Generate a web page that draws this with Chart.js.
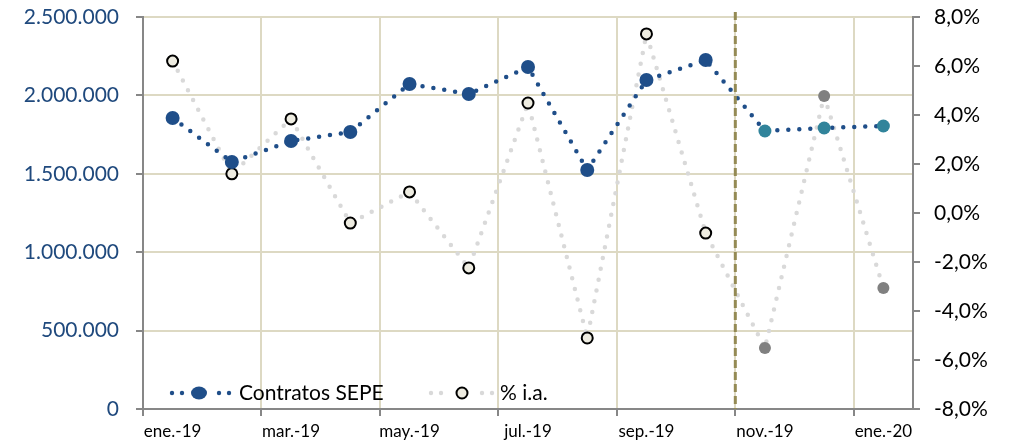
<!DOCTYPE html>
<html lang="es">
<head>
<meta charset="utf-8">
<title>Contratos SEPE</title>
<script src="https://cdn.jsdelivr.net/npm/chart.js@4/dist/chart.umd.min.js"></script>
<style>
  html, body { margin: 0; padding: 0; background: #fff; }
  #wrap { width: 1011px; height: 443px; position: relative; }
</style>
</head>
<body>
<div id="wrap"><canvas id="grafico"></canvas></div>
<script>
/* Contratos registrados en el SEPE y variación interanual (% i.a.)
   ene.-19 a ene.-20; los tres últimos meses en otro color (previsión). */

const meses = ['ene.-19', 'feb.-19', 'mar.-19', 'abr.-19', 'may.-19', 'jun.-19', 'jul.-19',
               'ago.-19', 'sep.-19', 'oct.-19', 'nov.-19', 'dic.-19', 'ene.-20'];

const contratos = [1856000, 1575000, 1709000, 1767000, 2073000, 2009000, 2181000,
                   1524000, 2098000, 2226000, 1773000, 1792000, 1805000];

const variacion = [6.2, 1.6, 3.84, -0.41, 0.86, -2.24, 4.49,
                   -5.1, 7.31, -0.82, -5.51, 4.78, -3.06];

const ticksIzq = [0, 500000, 1000000, 1500000, 2000000, 2500000];
const ticksDer = [-8, -6, -4, -2, 0, 2, 4, 6, 8];

const primerPrevisto = 10;   // nov.-19 en adelante
const FONT = 'Lato, "Open Sans", sans-serif';

const c = {
  azul:   '#1f4e89',
  azulTx: '#1f497d',
  teal:   '#31849b',
  gris:   '#d9d9d9',
  grisPt: '#808080',
  crema:  '#eeece1',
  grid:   '#ddd9c3',
  eje:    '#878787',
  oliva:  '#948a54'
};

function miles(v) {
  return String(Math.round(v)).replace(/\B(?=(\d{3})+(?!\d))/g, '.');
}
function pct(v) {
  return v.toFixed(1).replace('.', ',') + '%';
}
function sinRelleno(s) {
  s.paddingTop = 0; s.paddingBottom = 0; s.paddingLeft = 0; s.paddingRight = 0;
}

/* línea vertical discontinua entre oct.-19 y nov.-19, y leyenda interior */
const extras = {
  id: 'extras',
  afterDatasetsDraw(chart) {
    const { ctx, chartArea, scales } = chart;
    const x = (scales.x.getPixelForValue(primerPrevisto - 1) + scales.x.getPixelForValue(primerPrevisto)) / 2;
    ctx.save();
    ctx.strokeStyle = c.oliva;
    ctx.lineWidth = 3;
    ctx.setLineDash([8, 4]);
    ctx.beginPath();
    ctx.moveTo(x, chartArea.top - 5);
    ctx.lineTo(x, chartArea.bottom);
    ctx.stroke();
    ctx.restore();

    // leyenda
    const y = 393;
    const items = [
      { x0: 172, mk: 199, tx: 239, col: c.azul, label: 'Contratos SEPE', open: false },
      { x0: 431, mk: 462, tx: 500, col: c.gris, label: '% i.a.', open: true }
    ];
    ctx.save();
    items.forEach(function (it) {
      ctx.fillStyle = it.col;
      [it.x0, it.x0 + 10, it.mk + 20, it.mk + 30].forEach(function (px) {
        ctx.beginPath();
        ctx.arc(px, y, 2.2, 0, Math.PI * 2);
        ctx.fill();
      });
      ctx.beginPath();
      if (it.open) {
        ctx.arc(it.mk, y, 5.5, 0, Math.PI * 2);
        ctx.fillStyle = c.crema;
        ctx.fill();
        ctx.lineWidth = 2;
        ctx.strokeStyle = '#000';
        ctx.stroke();
      } else {
        ctx.ellipse(it.mk, y, 8, 6.5, 0, 0, Math.PI * 2);
        ctx.fill();
      }
      ctx.fillStyle = '#000';
      ctx.font = '21px ' + FONT;
      ctx.textBaseline = 'middle';
      ctx.textAlign = 'left';
      ctx.fillText(it.label, it.tx, y);
    });
    ctx.restore();
  }
};

new Chart(document.getElementById('grafico'), {
  type: 'line',
  data: {
    labels: meses,
    datasets: [
      {
        label: 'Contratos SEPE',
        data: contratos,
        yAxisID: 'y',
        borderColor: c.azul,
        borderWidth: 4.5,
        borderCapStyle: 'round',
        borderDash: [0, 11],
        tension: 0,
        pointRadius: contratos.map((v, i) => i >= primerPrevisto ? 6.5 : 7),
        pointBorderWidth: 0,
        pointBackgroundColor: contratos.map((v, i) => i >= primerPrevisto ? c.teal : c.azul),
        pointBorderColor: 'transparent'
      },
      {
        label: '% i.a.',
        data: variacion,
        yAxisID: 'y2',
        borderColor: c.gris,
        borderWidth: 4.5,
        borderCapStyle: 'round',
        borderDash: [0, 11],
        tension: 0,
        pointRadius: variacion.map((v, i) => i >= primerPrevisto ? 6 : 5.5),
        pointBorderWidth: variacion.map((v, i) => i >= primerPrevisto ? 0 : 2),
        pointBackgroundColor: variacion.map((v, i) => i >= primerPrevisto ? c.grisPt : c.crema),
        pointBorderColor: '#000'
      }
    ]
  },
  options: {
    responsive: true,
    maintainAspectRatio: false,
    animation: false,
    layout: { padding: { top: 17, left: 0, right: 0, bottom: 0 } },
    plugins: {
      legend: { display: false },
      tooltip: { enabled: false }
    },
    scales: {
      x: {
        offset: true,
        grid: {
          offset: true,
          color: (ctx) => (ctx.index % 2 === 0 && ctx.index > 0) ? c.grid : 'transparent',
          tickColor: (ctx) => ctx.index % 2 === 0 ? c.eje : 'transparent',
          lineWidth: 2,
          tickLength: 7
        },
        border: { color: c.eje, width: 2 },
        ticks: {
          autoSkip: false,
          maxRotation: 0,
          padding: 5,
          color: '#000',
          font: { family: FONT, size: 17 },
          callback: (v, i) => i % 2 === 0 ? meses[i] : ''
        },
        afterFit: (s) => { s.height = 34; sinRelleno(s); }
      },
      y: {
        position: 'left',
        min: 0,
        max: 2500000,
        afterBuildTicks: (s) => { s.ticks = ticksIzq.map((v) => ({ value: v })); },
        grid: { color: c.grid, lineWidth: 2, tickColor: c.eje, tickLength: 7 },
        border: { color: c.eje, width: 2 },
        ticks: {
          color: c.azulTx,
          padding: 17,
          font: { family: FONT, size: 21 },
          callback: (v) => miles(v)
        },
        afterFit: (s) => { s.width = 143; sinRelleno(s); }
      },
      y2: {
        position: 'right',
        min: -8,
        max: 8,
        afterBuildTicks: (s) => { s.ticks = ticksDer.map((v) => ({ value: v })); },
        grid: { drawOnChartArea: false, tickColor: c.eje, tickLength: 7, lineWidth: 2 },
        border: { color: c.eje, width: 2 },
        ticks: {
          color: '#000',
          padding: 14,
          font: { family: FONT, size: 21 },
          callback: (v) => pct(v)
        },
        afterFit: (s) => { s.width = 98; sinRelleno(s); }
      }
    }
  },
  plugins: [extras]
});
</script>
</body>
</html>
